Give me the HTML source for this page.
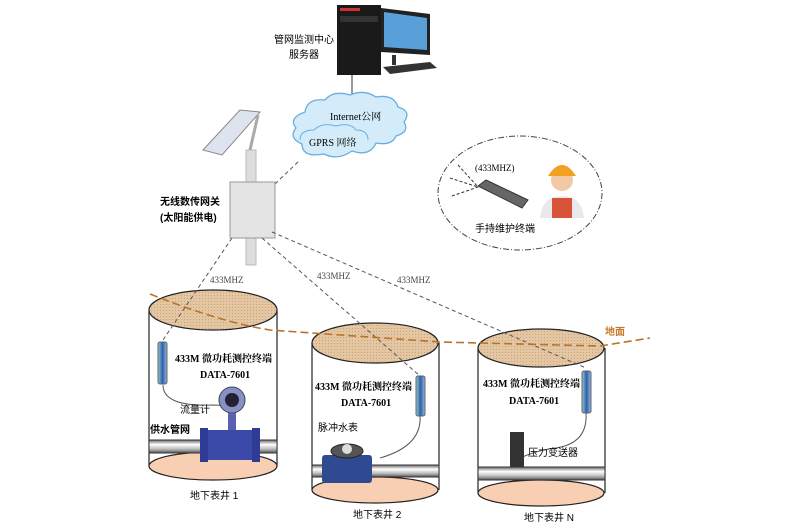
<!DOCTYPE html>
<html><head><meta charset="utf-8"><style>
body{margin:0;background:#fff}
svg{display:block;font-family:"Liberation Serif","Noto Serif CJK SC","Noto Sans CJK SC",serif}
.s{font-family:"Liberation Sans","Noto Sans CJK SC",sans-serif}
</style></head><body>
<svg width="790" height="527" viewBox="0 0 790 527" xmlns="http://www.w3.org/2000/svg">
<defs>
<pattern id="dots" width="3" height="3" patternUnits="userSpaceOnUse"><rect width="3" height="3" fill="#e4c6a2"/><circle cx="1.5" cy="1.5" r="0.5" fill="#c09a72"/></pattern>
<linearGradient id="pipe" x1="0" y1="0" x2="0" y2="1"><stop offset="0" stop-color="#666"/><stop offset=".35" stop-color="#fff"/><stop offset=".7" stop-color="#bbb"/><stop offset="1" stop-color="#555"/></linearGradient>
<linearGradient id="sens" x1="0" y1="0" x2="1" y2="0"><stop offset="0" stop-color="#9cc"/><stop offset=".5" stop-color="#2a5fae"/><stop offset="1" stop-color="#9bd"/></linearGradient>
</defs>

<!-- computer -->
<rect x="337" y="5" width="44" height="70" fill="#1a1a1a"/>
<rect x="340" y="8" width="20" height="3" fill="#c33"/>
<rect x="340" y="16" width="38" height="6" fill="#333"/>
<polygon points="381,8 430,14 430,55 381,52" fill="#222"/>
<polygon points="384,12 427,18 427,50 384,47" fill="#5aa0d8"/>
<rect x="392" y="55" width="4" height="10" fill="#333"/>
<polygon points="383,67 430,62 437,68 390,74" fill="#333"/>
<text x="274" y="43" font-size="10" class="s">管网监测中心</text>
<text x="289" y="58" font-size="10" class="s">服务器</text>
<line x1="352" y1="75" x2="352" y2="100" stroke="#333"/>

<!-- cloud -->
<path d="M305,112 q2,-14 20,-12 q8,-10 25,-5 q14,-6 26,2 q18,-3 22,10 q14,4 6,15 q6,10 -8,14 q-4,10 -20,7 q-6,14 -24,8 q-14,10 -28,3 q-22,4 -22,-10 q-14,-6 -6,-16 q-8,-10 9,-16z" fill="#d4ecfa" stroke="#6aaee0" stroke-width="1.3"/>
<path d="M300,140 q0,-10 14,-10 q8,-8 22,-4 q14,-4 20,4 q12,0 12,10" fill="none" stroke="#6aaee0"/>
<text x="330" y="120" font-size="10">Internet公网</text>
<text x="309" y="146" font-size="10">GPRS 网络</text>
<line x1="275" y1="184" x2="300" y2="160" stroke="#555" stroke-dasharray="4,3"/>

<!-- solar + pole -->
<rect x="246" y="150" width="10" height="115" fill="#ddd" stroke="#bbb"/>
<polygon points="203,150 240,110 260,112 222,155" fill="#dde4f0" stroke="#888"/>
<line x1="250" y1="150" x2="258" y2="115" stroke="#aaa" stroke-width="3"/>
<rect x="230" y="182" width="45" height="56" fill="#e4e4e4" stroke="#999"/>
<text x="160" y="205" font-size="10" font-weight="bold" class="s">无线数传网关</text>
<text x="160" y="221" font-size="10" font-weight="bold" class="s">(太阳能供电)</text>

<!-- handheld ellipse -->
<ellipse cx="520" cy="193" rx="82" ry="57" fill="none" stroke="#444" stroke-dasharray="6,2,1,2"/>
<g stroke="#333" stroke-dasharray="3,2"><line x1="458" y1="165" x2="478" y2="187"/><line x1="450" y1="178" x2="478" y2="187"/><line x1="452" y1="196" x2="478" y2="187"/></g>
<polygon points="478,186 486,180 528,200 522,208" fill="#666" stroke="#333"/>
<text x="475" y="171" font-size="9">(433MHZ)</text>
<circle cx="562" cy="180" r="11" fill="#f2c9a2"/>
<path d="M548,176 q14,-22 28,0z" fill="#f2a020"/>
<path d="M540,218 q2,-22 22,-22 q20,0 22,22z" fill="#e9e9e9"/>
<rect x="552" y="198" width="20" height="20" fill="#d9533a"/>
<text x="475" y="232" font-size="10" class="s">手持维护终端</text>

<text x="210" y="283" font-size="9" fill="#444">433MHZ</text>
<text x="317" y="279" font-size="9" fill="#444">433MHZ</text>
<text x="397" y="283" font-size="9" fill="#444">433MHZ</text>

<!-- wells -->
<g stroke="#222" stroke-width="1.2">
<rect x="149" y="310" width="128" height="156" fill="#fff" stroke="none"/>
<line x1="149" y1="310" x2="149" y2="466"/><line x1="277" y1="310" x2="277" y2="466"/>
<ellipse cx="213" cy="466" rx="64" ry="14" fill="#f8cfb2"/>
<ellipse cx="213" cy="310" rx="64" ry="20" fill="url(#dots)"/>
<line x1="312" y1="343" x2="312" y2="490"/><line x1="439" y1="343" x2="439" y2="490"/>
<ellipse cx="375" cy="490" rx="63" ry="13" fill="#f8cfb2"/>
<ellipse cx="375" cy="343" rx="63" ry="20" fill="url(#dots)"/>
<line x1="478" y1="348" x2="478" y2="493"/><line x1="605" y1="348" x2="605" y2="493"/>
<ellipse cx="541" cy="493" rx="63" ry="13" fill="#f8cfb2"/>
<ellipse cx="541" cy="348" rx="63" ry="19" fill="url(#dots)"/>
</g>
<!-- pipes -->
<rect x="149" y="440" width="128" height="13" fill="url(#pipe)" stroke="#333"/>
<rect x="312" y="465" width="127" height="12" fill="url(#pipe)" stroke="#333"/>
<rect x="478" y="467" width="127" height="13" fill="url(#pipe)" stroke="#333"/>

<!-- dashed radio lines (over wells) -->
<g stroke="#555" stroke-dasharray="4,3" fill="none">
<line x1="232" y1="238" x2="163" y2="340"/>
<line x1="262" y1="238" x2="420" y2="376"/>
<line x1="272" y1="232" x2="586" y2="368"/>
</g>

<!-- ground line -->
<path d="M150,294 Q220,322 270,330 L440,342 L600,346 L650,338" fill="none" stroke="#b8742a" stroke-width="1.6" stroke-dasharray="8,4"/>
<text x="605" y="335" font-size="10" fill="#c8782a" font-weight="bold" class="s">地面</text>

<!-- sensors -->
<rect x="158" y="342" width="9" height="42" rx="2" fill="url(#sens)" stroke="#666"/>
<rect x="416" y="376" width="9" height="40" rx="2" fill="url(#sens)" stroke="#666"/>
<rect x="582" y="371" width="9" height="42" rx="2" fill="url(#sens)" stroke="#666"/>
<g stroke="#555" fill="none">
<path d="M163,385 q0,22 50,20 q20,0 22,10"/>
<path d="M420,416 q2,30 -40,42"/>
<path d="M586,413 q2,30 -30,35 q-20,2 -40,12"/>
</g>

<!-- devices -->
<circle cx="232" cy="400" r="13" fill="#8890c8" stroke="#444"/>
<circle cx="232" cy="400" r="7" fill="#223"/>
<rect x="228" y="413" width="8" height="20" fill="#5a62b0"/>
<rect x="205" y="430" width="50" height="30" rx="3" fill="#3b4aa8"/>
<rect x="200" y="428" width="8" height="34" fill="#2e3c96"/><rect x="252" y="428" width="8" height="34" fill="#2e3c96"/>
<rect x="322" y="455" width="50" height="28" rx="3" fill="#2f4a90"/>
<ellipse cx="347" cy="451" rx="16" ry="7" fill="#555" stroke="#222"/>
<circle cx="347" cy="449" r="5" fill="#ddd"/>
<rect x="510" y="432" width="14" height="35" fill="#333"/>

<!-- labels -->
<g font-size="10" font-weight="bold">
<text x="175" y="362">433M 微功耗测控终端</text><text x="200" y="378">DATA-7601</text>
<text x="315" y="390">433M 微功耗测控终端</text><text x="341" y="406">DATA-7601</text>
<text x="483" y="387">433M 微功耗测控终端</text><text x="509" y="404">DATA-7601</text>
</g>
<text x="180" y="413" font-size="10" class="s">流量计</text>
<text x="150" y="433" font-size="10" font-weight="bold" class="s">供水管网</text>
<text x="318" y="431" font-size="10" class="s">脉冲水表</text>
<text x="528" y="456" font-size="10" class="s">压力变送器</text>
<text x="190" y="499" font-size="10" class="s">地下表井 1</text>
<text x="353" y="518" font-size="10" class="s">地下表井 2</text>
<text x="524" y="521" font-size="10" class="s">地下表井 N</text>
</svg>
</body></html>
